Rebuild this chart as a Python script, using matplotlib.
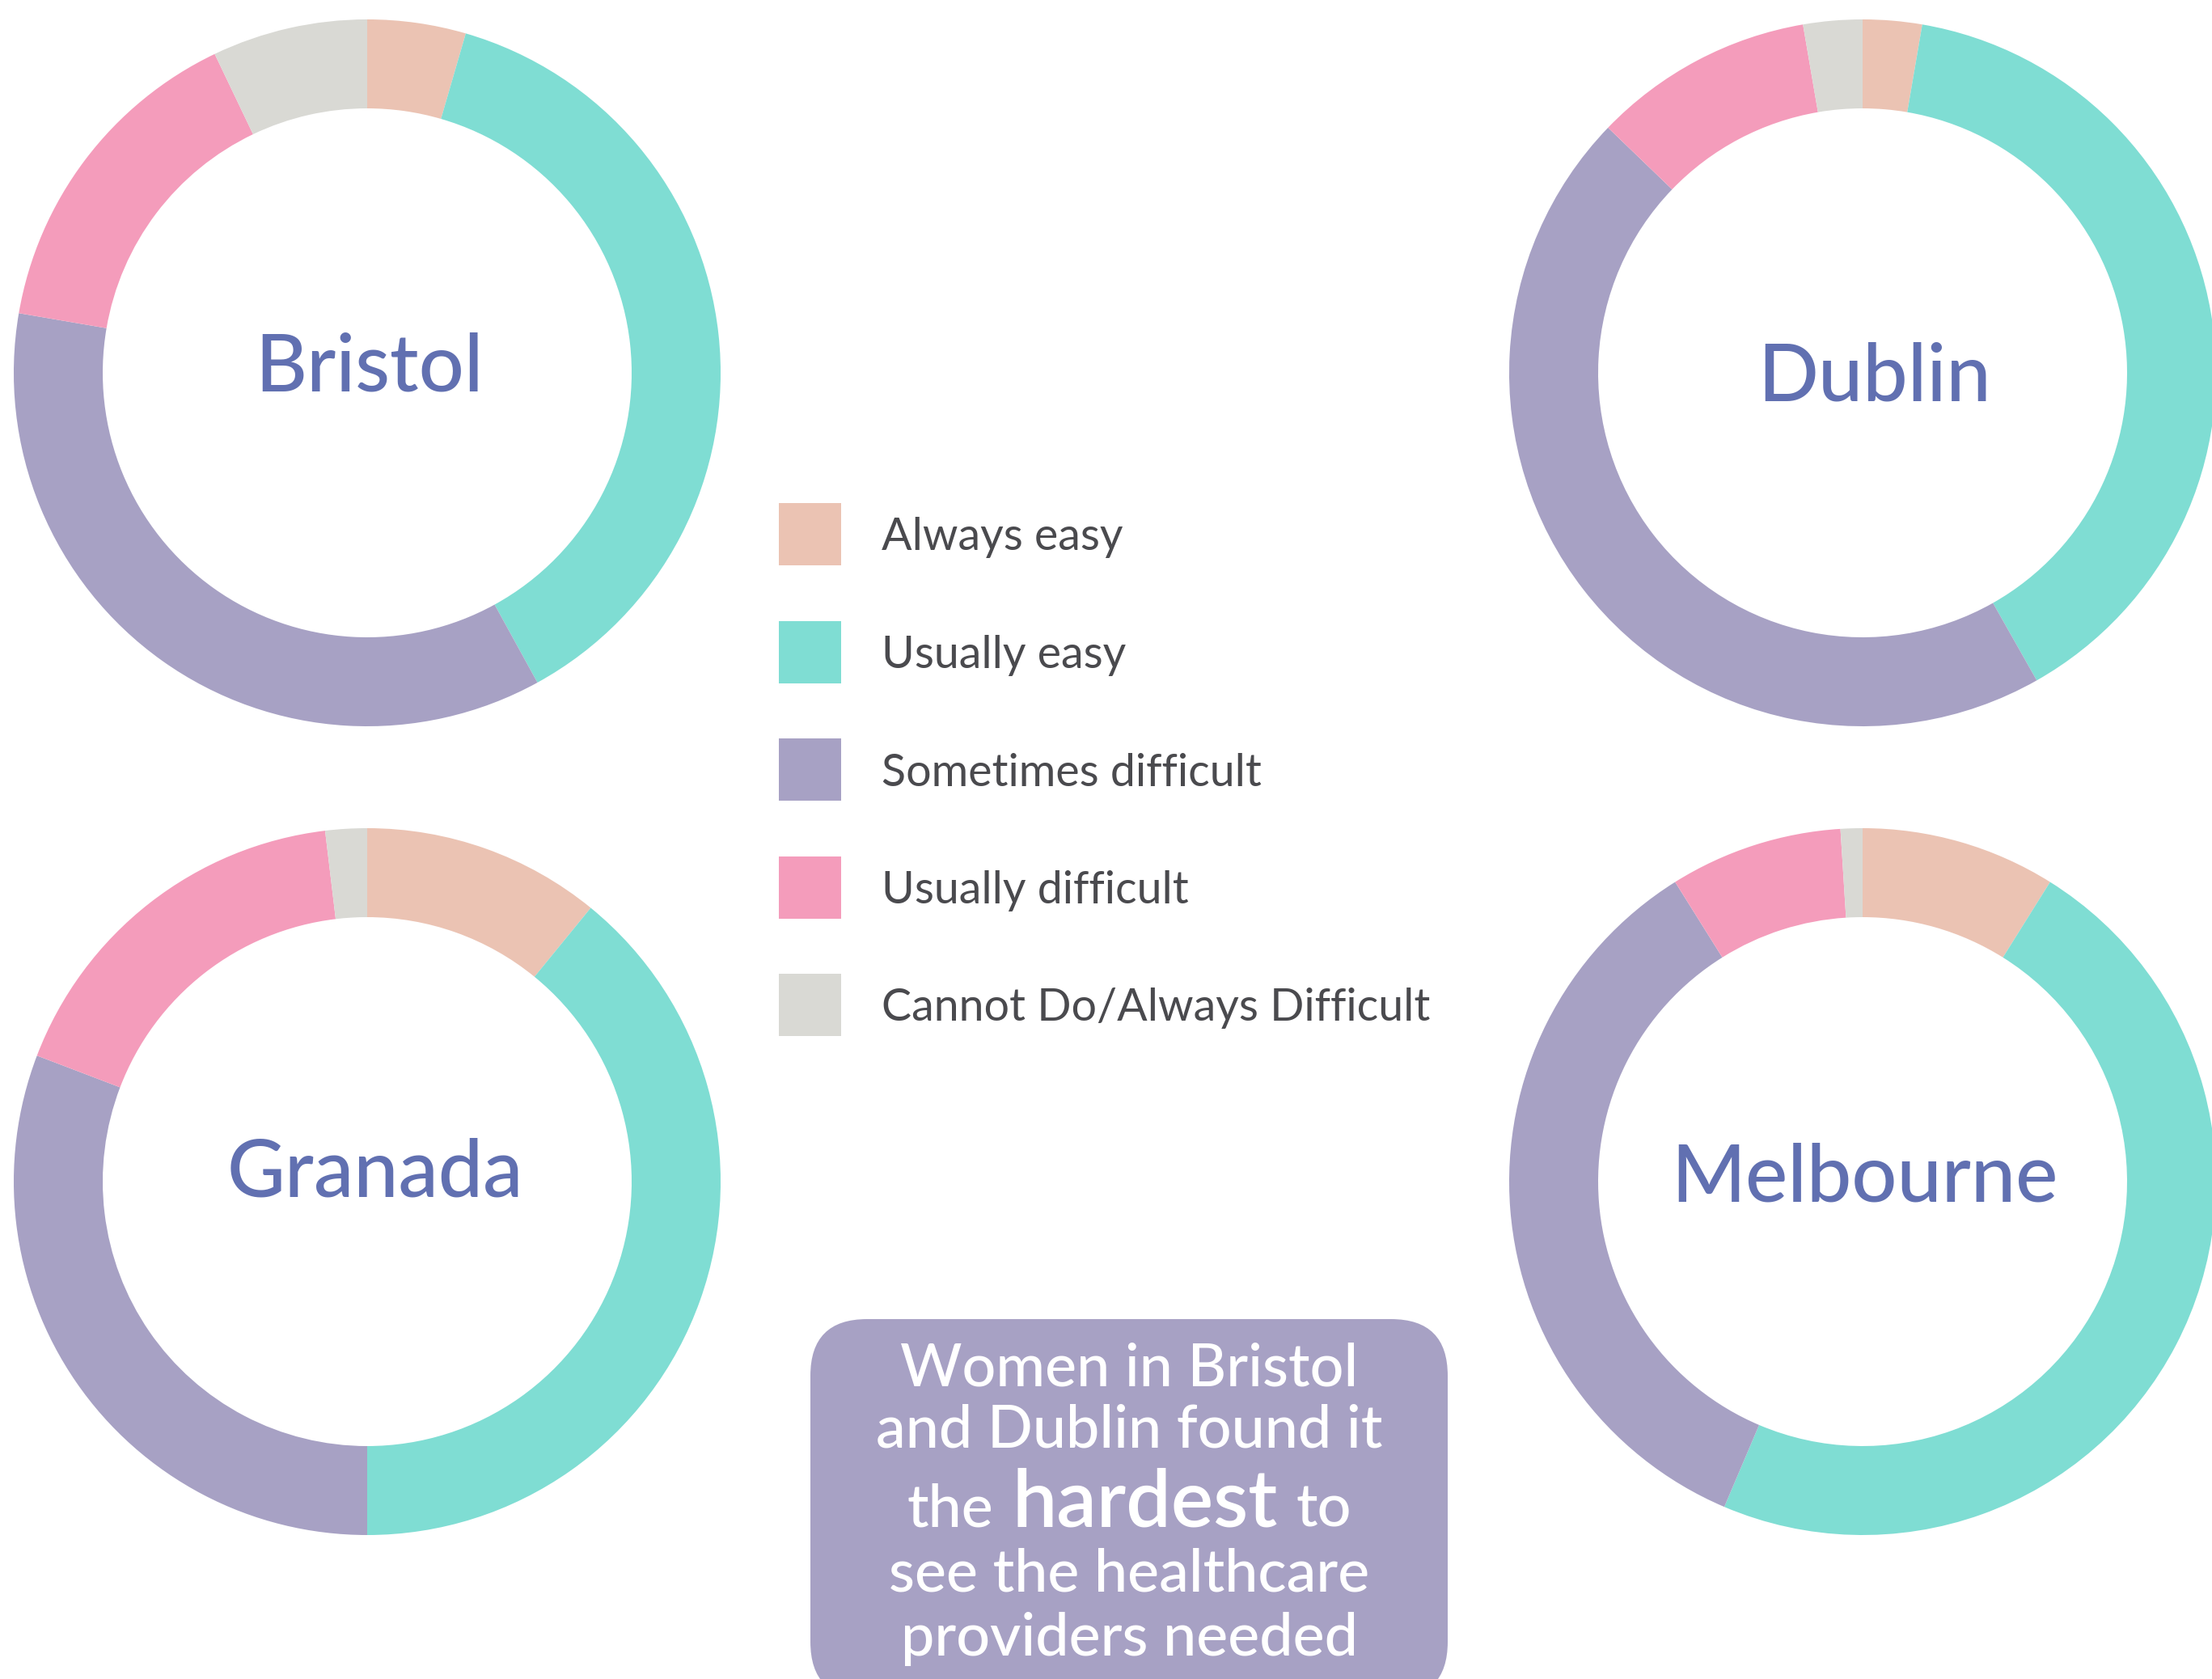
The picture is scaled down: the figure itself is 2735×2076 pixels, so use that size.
import matplotlib.pyplot as plt
from matplotlib.patches import FancyBboxPatch, Rectangle

W, H = 2735, 2076

categories = ["Always easy", "Usually easy", "Sometimes difficult",
              "Usually difficult", "Cannot Do/Always Difficult"]
colors = ["#EBC3B3", "#7FDDD3", "#A7A1C4", "#F49CBB", "#D9D9D4"]

cities = ["Bristol", "Dublin", "Granada", "Melbourne"]
bristol = [4.5, 37.5, 35.7, 15.2, 7.1]
dublin = [2.7, 39.1, 45.4, 10.1, 2.7]
granada = [10.9, 39.1, 30.8, 17.3, 1.9]
melbourne = [8.9, 47.5, 34.7, 7.9, 1.0]

note_top = ["Women in Bristol", "and Dublin found it"]
note_mid = ["the", "hardest", "to"]
note_bottom = ["see the healthcare", "providers needed"]

plt.rcParams['font.family'] = ['Lato', 'DejaVu Sans']
city_color = "#6170B1"
text_color = "#4A4A4E"
box_color = "#A7A1C4"

fig = plt.figure(figsize=(W / 100, H / 100), dpi=100)
ax = fig.add_axes([0, 0, 1, 1])

# pixel positions measured from the top-left corner
centers = [(454, 461), (2303, 461), (454, 1461), (2303, 1461)]
name_pos = [(456, 483), (2318, 495), (464, 1480), (2305, 1486)]
r_out, ring = 437, 110

for vals, name, (cx, cy), (tx, ty) in zip([bristol, dublin, granada, melbourne],
                                          cities, centers, name_pos):
    ax.pie(vals, colors=colors, startangle=90, counterclock=False,
           radius=r_out, center=(cx, H - cy),
           wedgeprops=dict(width=ring, linewidth=0))
    ax.text(tx, H - ty, name, ha='center', va='baseline', fontsize=71,
            color=city_color, fontweight='medium')

# legend
sq, x0, top0, step = 77, 963, 622, 145.5
for i, (lab, col) in enumerate(zip(categories, colors)):
    top = top0 + i * step
    ax.add_patch(Rectangle((x0, H - top - sq), sq, sq, color=col, lw=0))
    ax.text(1090, H - (top + sq / 2 + 20), lab, ha='left', va='baseline',
            fontsize=40, color=text_color)

# note box
bx0, bx1, by0, by1 = 1002, 1790, 1631, 2100
ax.add_patch(FancyBboxPatch((bx0, H - by1), bx1 - bx0, by1 - by0,
                            boxstyle="round,pad=0,rounding_size=70",
                            fc=box_color, ec='none'))
bcx = (bx0 + bx1) / 2
for line, base in zip(note_top, [1713, 1789]):
    ax.text(bcx, H - base, line, ha='center', va='baseline', fontsize=53,
            color='white', fontweight='medium')
for line, base in zip(note_bottom, [1968, 2047]):
    ax.text(bcx, H - base, line, ha='center', va='baseline', fontsize=53,
            color='white', fontweight='medium')

ax.set_xlim(0, W)
ax.set_ylim(0, H)
ax.axis('off')

# mixed size line, laid out by measured widths
pieces = [ax.text(0, H - 1887, s, ha='left', va='baseline', color='white',
                  fontsize=fs, fontweight=fw)
          for s, fs, fw in zip(note_mid, [53, 71, 53], ['medium', 'semibold', 'medium'])]
fig.canvas.draw()
rend = fig.canvas.get_renderer()
widths = [p.get_window_extent(rend).width for p in pieces]
gap = 23
x = bcx - (sum(widths) + 2 * gap) / 2
for p, w in zip(pieces, widths):
    p.set_x(x)
    x += w + gap

fig.savefig('out.png', dpi=100)
